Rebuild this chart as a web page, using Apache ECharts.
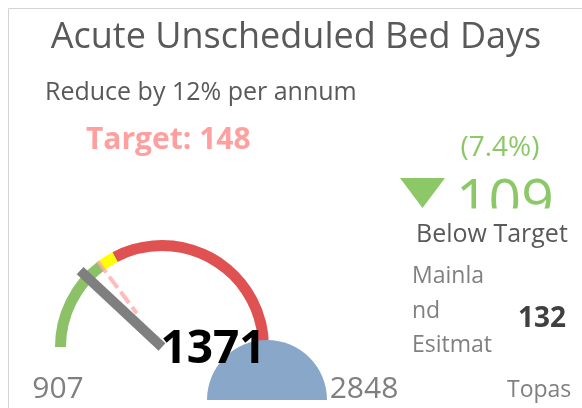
<!DOCTYPE html>
<html>
<head>
<meta charset="utf-8">
<script src="https://cdn.jsdelivr.net/npm/echarts@6/dist/echarts.min.js"></script>
<style>
  html, body { margin: 0; padding: 0; background: #fff; }
  #main { width: 582px; height: 408px; }
</style>
</head>
<body>
<div id="main"></div>
<script>
// texts
var titleText = 'Acute Unscheduled Bed Days';
var subtitleText = 'Reduce by 12% per annum';
var targetLabelText = 'Target: 148';
var statusText = 'Below Target';

// gauge scale (min / max labels)
var rangeLabels = [907, 2848];
// actual value and target
var actualValues = [1371];
var targetValues = [1480];
// upper limits of the bands: green, yellow, red
var bandLimits = [1480, 1580, 2848];
var bandColors = ['#8cc168', '#ffff00', '#e05252'];

// variance against target
var varianceValues = [109];
var variancePercents = [7.4];

// mainland estimate and next row
var estimateLabels = ['Mainla', 'nd', 'Esitmat'];
var estimateValues = [132];
var nextLabels = ['Topas'];

// half disc
var discValues = [1, 1];

var font = '"Open Sans", "Noto Sans", sans-serif';
var gMin = rangeLabels[0], gMax = rangeLabels[1];

function frac(v) {
    return (v - gMin) / (gMax - gMin);
}

var axisColors = [];
for (var i = 0; i < bandLimits.length; i++) {
    axisColors.push([frac(bandLimits[i]), bandColors[i]]);
}

// dashed pointer path for the target
var dashPath = 'path://M0,0h4v14h-4z M0,19h4v14h-4z M0,38h4v14h-4z M0,57h4v8h-4z';

function txt(x, y, text, size, color, align, weight) {
    return {
        type: 'text', x: x, y: y, z: 10,
        style: {
            text: text, fill: color, align: align || 'left', verticalAlign: 'middle',
            font: (weight || 'normal') + ' ' + size + 'px ' + font
        }
    };
}

var myChart = echarts.init(document.getElementById('main'));
var option = {
    animation: false,
    graphic: [
        {
            type: 'rect', z: 0,
            shape: { x: 8.5, y: 8.5, width: 700, height: 600 },
            style: { fill: 'none', stroke: '#d4d4d4', lineWidth: 1 }
        },
        txt(296, 38, titleText, 36, '#595959', 'center'),
        txt(45, 93, subtitleText, 25, '#595959'),
        txt(86, 140, targetLabelText, 30, '#ff9f9f', 'left', 'bold'),
        txt(500, 148, '(' + variancePercents[0] + '%)', 28, '#8cc868', 'center'),
        {
            type: 'polygon', z: 10,
            shape: { points: [[400, 178], [445, 178], [422.5, 208]] },
            style: { fill: '#8cc868' }
        },
        txt(456, 204, String(varianceValues[0]), 57, '#8cc868'),
        {
            type: 'rect', z: 11,
            shape: { x: 450, y: 208.5, width: 130, height: 14 },
            style: { fill: '#fff' }
        },
        txt(416, 235, statusText, 25, '#595959'),
        txt(412, 276, estimateLabels[0], 23, '#808080'),
        txt(412, 311, estimateLabels[1], 23, '#808080'),
        txt(412, 345, estimateLabels[2], 23, '#808080'),
        txt(542, 319, String(estimateValues[0]), 28, '#404040', 'center', 'bold'),
        txt(507, 390, nextLabels[0], 23, '#808080'),
        txt(58, 389, String(rangeLabels[0]), 30, '#7f7f7f', 'center'),
        txt(364, 389, String(rangeLabels[1]), 30, '#7f7f7f', 'center')
    ],
    series: [
        {
            type: 'gauge', z: 2,
            center: [162, 347], radius: 107,
            startAngle: 180, endAngle: 0,
            min: gMin, max: gMax,
            axisLine: { lineStyle: { width: 11, color: axisColors } },
            splitLine: { show: false },
            axisTick: { show: false },
            axisLabel: { show: false },
            pointer: { icon: 'rect', width: 10, length: 112, itemStyle: { color: '#7f7f7f' } },
            anchor: { show: false },
            title: { show: false },
            detail: { show: false },
            data: [{ value: actualValues[0] }]
        },
        {
            type: 'gauge', z: 3,
            center: [162, 347], radius: 107,
            startAngle: 180, endAngle: 0,
            min: gMin, max: gMax,
            axisLine: { show: false },
            splitLine: { show: false },
            axisTick: { show: false },
            axisLabel: { show: false },
            pointer: {
                icon: dashPath, width: 4, length: 65, offsetCenter: [0, -42],
                keepAspect: false,
                itemStyle: { color: 'rgba(255,165,165,0.75)' }
            },
            anchor: { show: false },
            title: { show: false },
            detail: { show: false },
            data: [{ value: targetValues[0] }]
        },
        {
            type: 'pie', z: 4,
            center: [267, 400], radius: 60,
            startAngle: 180, silent: true,
            label: { show: false }, labelLine: { show: false },
            data: [
                { value: discValues[0], itemStyle: { color: '#89a7c9' } },
                { value: discValues[1], itemStyle: { color: 'rgba(0,0,0,0)' } }
            ]
        },
        {
            type: 'gauge', z: 5,
            center: [162, 347], radius: 107,
            startAngle: 180, endAngle: 0,
            min: gMin, max: gMax,
            axisLine: { show: false },
            splitLine: { show: false },
            axisTick: { show: false },
            axisLabel: { show: false },
            pointer: { show: false },
            anchor: { show: false },
            title: { show: false },
            detail: {
                offsetCenter: [51, 3],
                fontSize: 46, fontWeight: 'bold', color: '#000',
                fontFamily: font,
                formatter: '{value}'
            },
            data: [{ value: actualValues[0] }]
        }
    ]
};
myChart.setOption(option);
</script>
</body>
</html>
